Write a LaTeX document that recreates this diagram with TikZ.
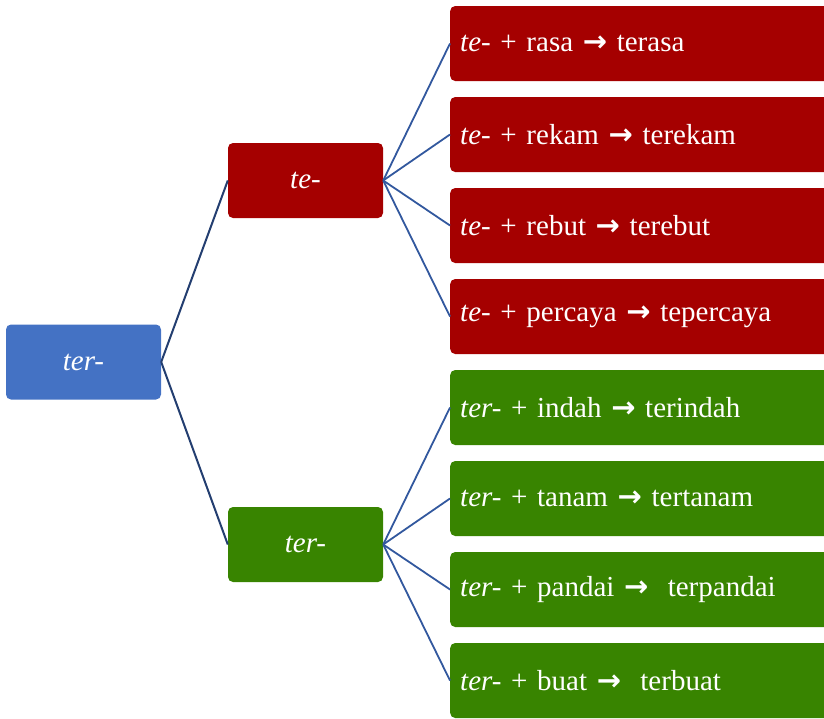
\documentclass[tikz,border=0pt]{standalone}
\usepackage{fontspec}
\setmainfont{Liberation Serif}
\newfontfamily\arrowfont{DejaVu Sans}
\usepackage{tikz}
\usepackage{xcolor}

\definecolor{rootblue}{RGB}{68,114,196}
\definecolor{tered}{RGB}{165,0,0}
\definecolor{tergreen}{RGB}{56,132,0}
\definecolor{linkblue}{RGB}{50,88,158}
\definecolor{linkdark}{RGB}{35,62,112}

\newcommand{\panah}{{\arrowfont\bfseries →}}

\begin{document}
\begin{tikzpicture}[x=1pt, y=-1pt,
    box/.style={rounded corners=5pt, text=white, font=\fontsize{29}{33}\selectfont,
        minimum width=155pt, minimum height=75pt, inner sep=0pt},
    leaf/.style={rounded corners=5pt, text=white, font=\fontsize{29}{33}\selectfont,
        anchor=west, text width=364pt, align=left, inner xsep=10pt,
        minimum height=75pt, inner ysep=0pt},
    link/.style={draw=linkblue, line width=1.8pt},
    rootlink/.style={draw=linkdark, line width=2pt}]
\useasboundingbox (0,0) rectangle (824,718);

% akar dan cabang
\node[box, fill=rootblue] (akar) at (83.5,362) {\textit{ter-}};
\node[box, fill=tered] (te) at (305.5,180.5) {\textit{te-}};
\node[box, fill=tergreen] (ter) at (305.5,544.5) {\textit{ter-}};

% daun
\foreach \i/\isi in {1/{\textit{te-} + rasa \panah{} terasa},
                     2/{\textit{te-} + rekam \panah{} terekam},
                     3/{\textit{te-} + rebut \panah{} terebut},
                     4/{\textit{te-} + percaya \panah{} tepercaya}}
    \node[leaf, fill=tered] (daun\i) at (450,{43.5+91*(\i-1)}) {\isi};
\foreach \i/\isi in {5/{\textit{ter-} + indah \panah{} terindah},
                     6/{\textit{ter-} + tanam \panah{} tertanam},
                     7/{\textit{ter-} + pandai \panah{}\ \ terpandai},
                     8/{\textit{ter-} + buat \panah{}\ \ terbuat}}
    \node[leaf, fill=tergreen] (daun\i) at (450,{43.5+91*(\i-1)}) {\isi};

% garis
\draw[rootlink] (akar.east) -- (te.west);
\draw[rootlink] (akar.east) -- (ter.west);
\foreach \i in {1,...,4}
    \draw[link] (te.east) -- (daun\i.west);
\foreach \i in {5,...,8}
    \draw[link] (ter.east) -- (daun\i.west);
\end{tikzpicture}
\end{document}
